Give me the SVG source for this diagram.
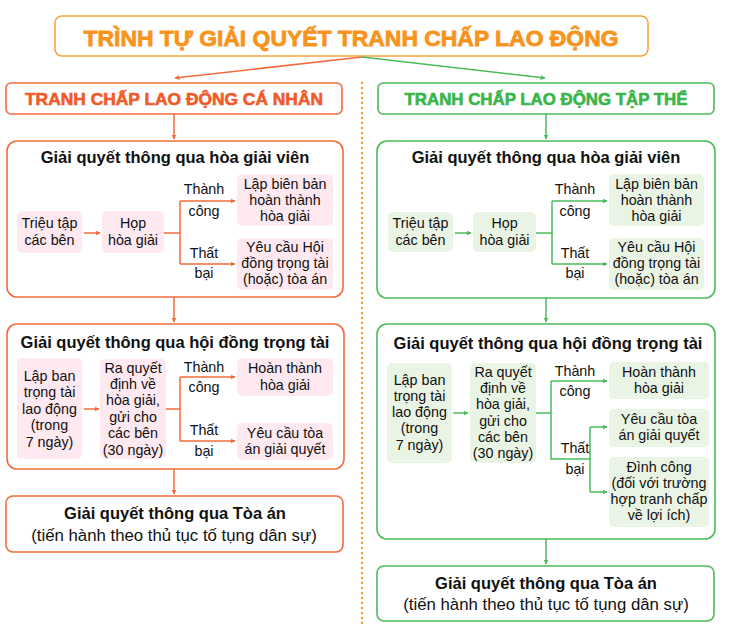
<svg xmlns="http://www.w3.org/2000/svg" width="751" height="631" viewBox="0 0 751 631">
<defs>
<style>
text{font-family:"Liberation Sans",Arial,sans-serif;fill:#111;text-anchor:middle;dominant-baseline:central}
.t{font-size:16.5px;font-weight:bold}
.s{font-size:14.3px}
.c{font-size:16.8px}
.ob{fill:none;stroke:#F26B3D;stroke-width:1.6}
.gb{fill:none;stroke:#4CBB5A;stroke-width:1.6}
.pk{fill:#FDE9EF}
.lg{fill:#EAF4E4}
.ol{fill:none;stroke:#F26B3D;stroke-width:1.5}
.gl{fill:none;stroke:#4CBB5A;stroke-width:1.5}
.oa{marker-end:url(#ao)}
.ga{marker-end:url(#ag)}
</style>
<marker id="ao" viewBox="0 0 10 10" refX="9" refY="5" markerWidth="5" markerHeight="5" orient="auto" markerUnits="userSpaceOnUse"><path d="M0 0L10 5L0 10z" fill="#F26B3D"/></marker>
<marker id="ag" viewBox="0 0 10 10" refX="9" refY="5" markerWidth="5" markerHeight="5" orient="auto" markerUnits="userSpaceOnUse"><path d="M0 0L10 5L0 10z" fill="#4CBB5A"/></marker>
</defs>
<rect width="751" height="631" fill="#fff"/>

<g id="title">
<rect x="55" y="16" width="593" height="40" rx="7" fill="#fff" stroke="#F7A440" stroke-width="1.6"/>
<text x="351" y="38" style="font-size:22px;font-weight:bold;fill:#F7941D;stroke:#F7941D;stroke-width:0.8" textLength="535" lengthAdjust="spacingAndGlyphs">TRÌNH TỰ GIẢI QUYẾT TRANH CHẤP LAO ĐỘNG</text>
</g>

<line x1="362" y1="82" x2="362" y2="626" stroke="#F7941D" stroke-width="2" stroke-dasharray="2 3"/>

<g id="connectors">
<path class="ol oa" d="M362 57L175 78"/>
<path class="gl ga" d="M362 57L545 78"/>
<path class="ol oa" d="M174 114V139"/>
<path class="ol oa" d="M84 233H100"/>
<path class="ol" d="M164 233H180M180 201V264"/>
<path class="ol oa" d="M180 201H235"/>
<path class="ol oa" d="M180 264H235"/>
<path class="ol oa" d="M174 297V322"/>
<path class="ol oa" d="M84 409H99"/>
<path class="ol" d="M166 409H180M180 377V441"/>
<path class="ol oa" d="M180 377H235"/>
<path class="ol oa" d="M180 441H235"/>
<path class="ol oa" d="M174 469V494"/>
<path class="gl ga" d="M546 114V139"/>
<path class="gl ga" d="M455 233H471"/>
<path class="gl" d="M536 233H552M552 201V264"/>
<path class="gl ga" d="M552 201H607"/>
<path class="gl ga" d="M552 264H607"/>
<path class="gl ga" d="M546 298V322"/>
<path class="gl ga" d="M453 413H468"/>
<path class="gl" d="M536 413H551M551 381V459H590M590 427V492"/>
<path class="gl ga" d="M551 381H607"/>
<path class="gl ga" d="M590 427H607"/>
<path class="gl ga" d="M590 492H607"/>
<path class="gl ga" d="M546 539V564"/>
</g>

<g id="left-header">
<rect x="6" y="83" width="336" height="31" rx="5" fill="#fff" stroke="#F26B3D" stroke-width="1.6"/>
<text x="174" y="99.5" style="font-size:17px;font-weight:bold;fill:#F15A29;stroke:#F15A29;stroke-width:0.6" textLength="298" lengthAdjust="spacingAndGlyphs">TRANH CHẤP LAO ĐỘNG CÁ NHÂN</text>
</g>
<g id="right-header">
<rect x="378" y="83" width="336" height="31" rx="5" fill="#fff" stroke="#4CBB5A" stroke-width="1.6"/>
<text x="546" y="99.5" style="font-size:17px;font-weight:bold;fill:#39B54A;stroke:#39B54A;stroke-width:0.6" textLength="283" lengthAdjust="spacingAndGlyphs">TRANH CHẤP LAO ĐỘNG TẬP THỂ</text>
</g>

<g id="l-hoagiai">
<rect class="ob" x="7" y="141" width="336" height="156" rx="10"/>
<text class="t" x="175" y="157">Giải quyết thông qua hòa giải viên</text>
</g>
<g id="l-trieutap"><rect class="pk" x="17" y="211" width="65" height="42" rx="5"/>
<text class="s" x="49.5" y="223">Triệu tập</text><text class="s" x="49.5" y="240">các bên</text></g>
<g id="l-hop"><rect class="pk" x="102" y="211" width="62" height="42" rx="5"/>
<text class="s" x="133" y="223">Họp</text><text class="s" x="133" y="240">hòa giải</text></g>
<g id="l-lbl1"><text class="s" x="204" y="189">Thành</text><text class="s" x="204" y="211">công</text>
<text class="s" x="204" y="253">Thất</text><text class="s" x="204" y="273">bại</text></g>
<g id="l-lapbienban"><rect class="pk" x="237" y="174" width="96" height="52" rx="5"/>
<text class="s" x="285" y="184">Lập biên bản</text><text class="s" x="285" y="200">hoàn thành</text><text class="s" x="285" y="216">hòa giải</text></g>
<g id="l-yeucauhd"><rect class="pk" x="237" y="238" width="96" height="52" rx="5"/>
<text class="s" x="285" y="247">Yêu cầu Hội</text><text class="s" x="285" y="263">đồng trọng tài</text><text class="s" x="285" y="279">(hoặc) tòa án</text></g>

<g id="l-trongtai">
<rect class="ob" x="7" y="324" width="337" height="145" rx="10"/>
<text class="t" x="175" y="342">Giải quyết thông qua hội đồng trọng tài</text>
</g>
<g id="l-lapban"><rect class="pk" x="17" y="358" width="65" height="101" rx="5"/>
<text class="s" x="49.5" y="376">Lập ban</text><text class="s" x="49.5" y="392">trọng tài</text><text class="s" x="49.5" y="409">lao động</text><text class="s" x="49.5" y="425">(trong</text><text class="s" x="49.5" y="442">7 ngày)</text></g>
<g id="l-raquyet"><rect class="pk" x="100" y="359" width="66" height="100" rx="5"/>
<text class="s" x="133" y="368">Ra quyết</text><text class="s" x="133" y="384">định về</text><text class="s" x="133" y="400">hòa giải,</text><text class="s" x="133" y="417">gửi cho</text><text class="s" x="133" y="433">các bên</text><text class="s" x="133" y="450">(30 ngày)</text></g>
<g id="l-lbl2"><text class="s" x="204" y="367">Thành</text><text class="s" x="204" y="387">công</text>
<text class="s" x="204" y="430">Thất</text><text class="s" x="204" y="451">bại</text></g>
<g id="l-hoanthanh"><rect class="pk" x="237" y="358" width="96" height="38" rx="5"/>
<text class="s" x="285" y="368">Hoàn thành</text><text class="s" x="285" y="385">hòa giải</text></g>
<g id="l-yeucautoa"><rect class="pk" x="237" y="423" width="96" height="37" rx="5"/>
<text class="s" x="285" y="433">Yêu cầu tòa</text><text class="s" x="285" y="449">án giải quyết</text></g>

<g id="l-toaan">
<rect x="6" y="496" width="337" height="56" rx="7" fill="#fff" stroke="#F26B3D" stroke-width="1.6"/>
<text class="t" x="175" y="513">Giải quyết thông qua Tòa án</text>
<text class="c" x="174" y="535">(tiến hành theo thủ tục tố tụng dân sự)</text>
</g>

<g id="r-hoagiai">
<rect class="gb" x="377" y="141" width="338" height="157" rx="10"/>
<text class="t" x="546" y="157">Giải quyết thông qua hòa giải viên</text>
</g>
<g id="r-trieutap"><rect class="lg" x="388" y="212" width="65" height="40" rx="5"/>
<text class="s" x="420.5" y="223">Triệu tập</text><text class="s" x="420.5" y="240">các bên</text></g>
<g id="r-hop"><rect class="lg" x="473" y="212" width="63" height="40" rx="5"/>
<text class="s" x="504.5" y="223">Họp</text><text class="s" x="504.5" y="240">hòa giải</text></g>
<g id="r-lbl1"><text class="s" x="575" y="189">Thành</text><text class="s" x="575" y="211">công</text>
<text class="s" x="575" y="253">Thất</text><text class="s" x="575" y="273">bại</text></g>
<g id="r-lapbienban"><rect class="lg" x="609" y="174" width="95" height="52" rx="5"/>
<text class="s" x="656.5" y="184">Lập biên bản</text><text class="s" x="656.5" y="200">hoàn thành</text><text class="s" x="656.5" y="216">hòa giải</text></g>
<g id="r-yeucauhd"><rect class="lg" x="609" y="238" width="95" height="52" rx="5"/>
<text class="s" x="656.5" y="247">Yêu cầu Hội</text><text class="s" x="656.5" y="263">đồng trọng tài</text><text class="s" x="656.5" y="279">(hoặc) tòa án</text></g>

<g id="r-trongtai">
<rect class="gb" x="377" y="324" width="338" height="215" rx="10"/>
<text class="t" x="548" y="343">Giải quyết thông qua hội đồng trọng tài</text>
</g>
<g id="r-lapban"><rect class="lg" x="387" y="363" width="65" height="100" rx="5"/>
<text class="s" x="419.5" y="380">Lập ban</text><text class="s" x="419.5" y="396">trọng tài</text><text class="s" x="419.5" y="412">lao động</text><text class="s" x="419.5" y="428">(trong</text><text class="s" x="419.5" y="445">7 ngày)</text></g>
<g id="r-raquyet"><rect class="lg" x="470" y="363" width="66" height="100" rx="5"/>
<text class="s" x="503" y="372">Ra quyết</text><text class="s" x="503" y="388">định về</text><text class="s" x="503" y="404">hòa giải,</text><text class="s" x="503" y="421">gửi cho</text><text class="s" x="503" y="437">các bên</text><text class="s" x="503" y="453">(30 ngày)</text></g>
<g id="r-lbl2"><text class="s" x="575" y="371">Thành</text><text class="s" x="575" y="391">công</text>
<text class="s" x="575" y="448">Thất</text><text class="s" x="575" y="469">bại</text></g>
<g id="r-hoanthanh"><rect class="lg" x="609" y="362" width="100" height="37" rx="5"/>
<text class="s" x="659" y="372">Hoàn thành</text><text class="s" x="659" y="388">hòa giải</text></g>
<g id="r-yeucautoa"><rect class="lg" x="609" y="409" width="100" height="38" rx="5"/>
<text class="s" x="659" y="419">Yêu cầu tòa</text><text class="s" x="659" y="435">án giải quyết</text></g>
<g id="r-dinhcong"><rect class="lg" x="609" y="457" width="100" height="70" rx="5"/>
<text class="s" x="659" y="467">Đình công</text><text class="s" x="659" y="483">(đối với trường</text><text class="s" x="659" y="499">hợp tranh chấp</text><text class="s" x="659" y="515">về lợi ích)</text></g>

<g id="r-toaan">
<rect x="377" y="566" width="337" height="55" rx="7" fill="#fff" stroke="#4CBB5A" stroke-width="1.6"/>
<text class="t" x="546" y="583">Giải quyết thông qua Tòa án</text>
<text class="c" x="546" y="604">(tiến hành theo thủ tục tố tụng dân sự)</text>
</g>
</svg>
